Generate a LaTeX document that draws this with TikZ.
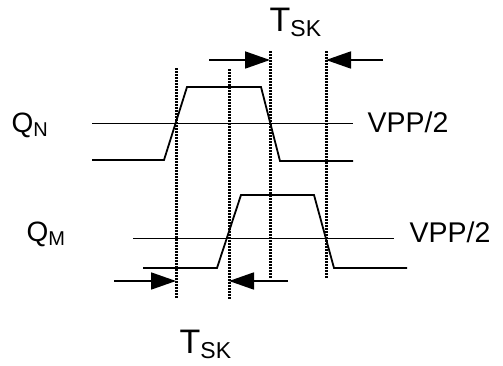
\documentclass[tikz,border=0pt]{standalone}
\usepackage{fontspec}
\setmainfont{Liberation Sans}
\usetikzlibrary{arrows.meta}
\tikzset{
  wave/.style={line width=1.8pt, line join=miter},
  refline/.style={line width=0.8pt},
  skarrow/.style={line width=1.8pt, -{Triangle[length=25pt,width=17pt]}},
  lbl/.style={inner sep=0pt, anchor=base west},
}
\newcommand{\bigtxt}{\fontsize{28.5}{28.5}\selectfont}
\newcommand{\qtxt}{\fontsize{28}{28}\selectfont}
\newcommand{\subtxt}{\fontsize{20}{20}\selectfont}
\newcommand{\tsub}{\fontsize{23}{23}\selectfont}
\newcommand{\tsktxt}{\fontsize{34}{34}\selectfont}
% dotted guide: column of small black squares
\newcommand{\guidecol}[4]{%
  \foreach \gy in {#2,#3,...,#4} {\fill ({#1-1.5},\gy) rectangle ({#1+1.5},{\gy+2.2});}}
\begin{document}
\begin{tikzpicture}[x=1pt,y=-1pt]
\useasboundingbox (0,0) rectangle (503,366);
% reference levels VPP/2
\draw[refline] (92,123) -- (353,123);
\draw[refline] (133,238) -- (394,238);
% waveforms
\draw[wave] (92,160) -- (164,160) -- (187,87) -- (261,87) -- (280,161) -- (353,161);
\draw[wave] (143,268) -- (217,268) -- (241,195) -- (314,195) -- (334,268) -- (407,268);
% guide lines
\coordinate (g1t) at (176,68);  \coordinate (g1b) at (176,300);
\coordinate (g2t) at (229,69);  \coordinate (g2b) at (229,301);
\coordinate (g3t) at (270,51);  \coordinate (g3b) at (270,278);
\coordinate (g4t) at (326,51);  \coordinate (g4b) at (326,278);
\guidecol{176.5}{68}{71}{298}
\guidecol{229.5}{69}{72}{299}
\guidecol{270.5}{51}{54}{276}
\guidecol{326.5}{51}{54}{276}
% skew arrows
\coordinate (a1s) at (209,60); \coordinate (a1e) at (270,60);
\coordinate (a2s) at (383,60); \coordinate (a2e) at (326,60);
\coordinate (a3s) at (114,281); \coordinate (a3e) at (176,281);
\coordinate (a4s) at (288,281); \coordinate (a4e) at (229,281);
\draw[skarrow] (a1s) -- (a1e);
\draw[skarrow] (a2s) -- (a2e);
\draw[skarrow] (a3s) -- (a3e);
\draw[skarrow] (a4s) -- (a4e);
% labels
\node[lbl] (qn) at (11.5,133) {\qtxt Q\raisebox{-4pt}{\subtxt N}};
\node[lbl] (qm) at (26.5,241) {\qtxt Q\raisebox{-4.7pt}{\subtxt M}};
\node[lbl] (v1) at (367.5,132.7) {\bigtxt VPP/2};
\node[lbl] (v2) at (409.5,242) {\bigtxt VPP/2};
\node[lbl] (tsk1) at (269.5,31.7) {\tsktxt T\raisebox{-4.8pt}{\tsub SK}};
\node[lbl] (tsk2) at (179.5,353.3) {\tsktxt T\raisebox{-5pt}{\tsub SK}};
\end{tikzpicture}
\end{document}
